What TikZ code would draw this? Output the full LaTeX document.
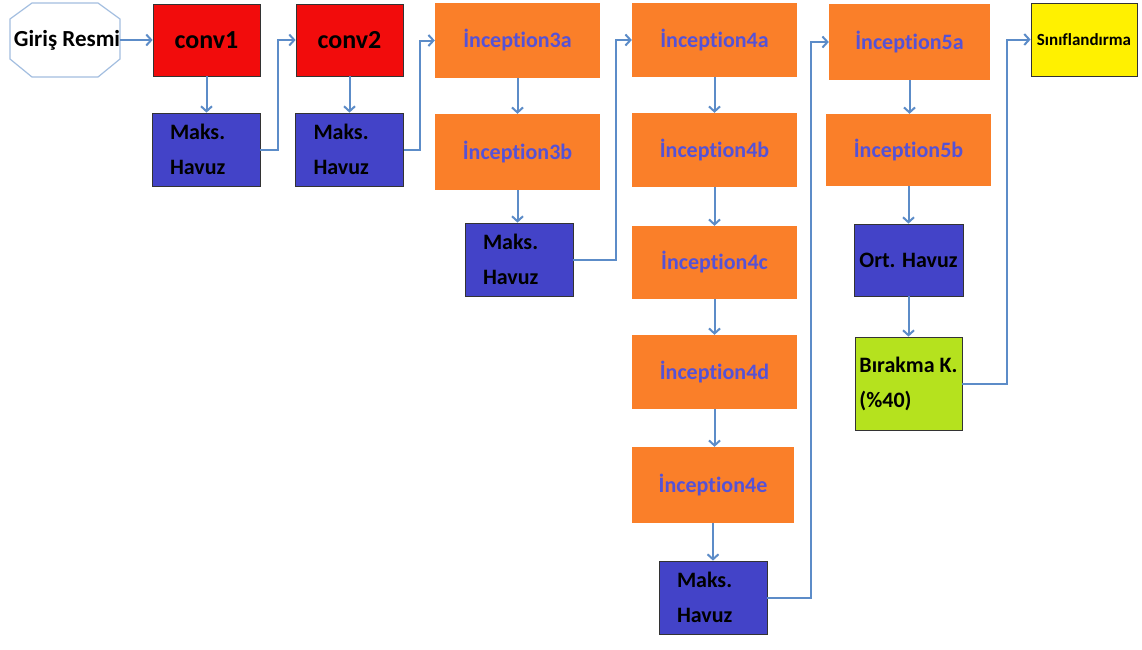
\documentclass[tikz,border=0pt]{standalone}
\usepackage{fontspec}
\setmainfont{Carlito}[Ligatures=NoCommon]
\usetikzlibrary{arrows.meta,calc}

\definecolor{convred}{HTML}{F20C0C}
\definecolor{poolblue}{HTML}{4343C8}
\definecolor{incorange}{HTML}{FA7F29}
\definecolor{inctext}{HTML}{5552D6}
\definecolor{clsyellow}{HTML}{FFF100}
\definecolor{droplime}{HTML}{B5E21E}
\definecolor{flowblue}{HTML}{5C8CC8}
\definecolor{octoline}{HTML}{A3BEE0}
\definecolor{edgegray}{HTML}{333333}

\tikzset{
  blk/.style={rectangle, inner sep=0pt, font=\bfseries\fontsize{22}{35}\selectfont},
  convbox/.style={blk, fill=convred, draw=edgegray, line width=0.8pt,
                  minimum width=107pt, minimum height=72pt,
                  font=\bfseries\fontsize{26}{30}\selectfont},
  poolbox/.style={blk, fill=poolblue, draw=edgegray, line width=0.8pt,
                  inner xsep=18pt, text width=72pt,
                  minimum height=73pt, align=left},
  incbox/.style={blk, fill=incorange, text=inctext,
                 minimum width=165pt, minimum height=74pt},
  dropbox/.style={blk, fill=droplime, draw=edgegray, line width=0.8pt,
                  minimum width=107pt, minimum height=93pt, align=left},
  clsbox/.style={blk, fill=clsyellow, draw=edgegray, line width=0.8pt,
                 minimum width=106pt, minimum height=73pt,
                 font=\bfseries\fontsize{17}{20}\selectfont},
  flow/.style={draw=flowblue, line width=2pt,
               -{Straight Barb[length=5pt,width=11pt,line width=2pt]}},
  octo/.style={draw=octoline, line width=1.2pt, fill=white}
}

\begin{document}
\begin{tikzpicture}[x=1pt,y=-1pt]
\useasboundingbox[fill=white] (0,0) rectangle (1142,649);

% input image octagon
\draw[octo] (32,3) -- (98,3) -- (120,19) -- (120,59) -- (98,77)
            -- (32,77) -- (10,59) -- (10,19) -- cycle;
\node[blk, font=\bfseries\fontsize{23}{27}\selectfont] (in) at (67,40) {Giriş Resmi};

% stem
\node[convbox] (conv1) at (206.5,40) {conv1};
\node[convbox] (conv2) at (349.5,40) {conv2};
\node[poolbox] (mh1) at (206,149.5) {Maks.\\Havuz};
\node[poolbox] (mh2) at (349.5,149.5) {Maks.\\Havuz};

% inception 3
\node[incbox, minimum height=75pt] (i3a) at (517.5,40.5) {İnception3a};
\node[incbox, minimum height=76pt] (i3b) at (517.5,152) {İnception3b};
\node[poolbox] (mh3) at (519,259.5) {Maks.\\Havuz};

% inception 4
\node[incbox] (i4a) at (714.5,40) {İnception4a};
\node[incbox] (i4b) at (714.5,150) {İnception4b};
\node[incbox, minimum height=73pt] (i4c) at (714.5,262.5) {İnception4c};
\node[incbox] (i4d) at (714.5,372) {İnception4d};
\node[incbox, minimum width=162pt, minimum height=76pt] (i4e) at (713,485) {İnception4e};
\node[poolbox] (mh4) at (713,597.5) {Maks.\\Havuz};

% inception 5 and head
\node[incbox, minimum width=161pt, minimum height=76pt] (i5a) at (909.5,42) {İnception5a};
\node[incbox, minimum height=72pt] (i5b) at (908.5,150) {İnception5b};
\node[blk, fill=poolblue, draw=edgegray, line width=0.8pt,
      minimum width=109pt, minimum height=72pt] (ort) at (908.5,260) {Ort. Havuz};
\node[dropbox] (birak) at (908.5,383.5) {Bırakma K.\\(\%40)};
\node[clsbox] (sinif) at (1084,39.5) {Sınıflandırma};

% straight connectors
\draw[flow] (in.east) -- (conv1.west);
\draw[flow] (conv1.south) -- (conv1.south |- mh1.north);
\draw[flow] (conv2.south) -- (conv2.south |- mh2.north);
\draw[flow] (i3a.south) -- (i3a.south |- i3b.north);
\draw[flow] (i3b.south) -- (i3b.south |- mh3.north);
\draw[flow] (i4a.south) -- (i4a.south |- i4b.north);
\draw[flow] (i4b.south) -- (i4b.south |- i4c.north);
\draw[flow] (i4c.south) -- (i4c.south |- i4d.north);
\draw[flow] (i4d.south) -- (i4d.south |- i4e.north);
\draw[flow] (i4e.south) -- (i4e.south |- mh4.north);
\draw[flow] (i5a.south) -- (i5a.south |- i5b.north);
\draw[flow] (i5b.south) -- (i5b.south |- ort.north);
\draw[flow] (ort.south) -- (ort.south |- birak.north);

% elbow connectors back to the top row
\draw[flow] (mh1.east) -- ++(18,0) |- (conv2.west);
\draw[flow] (mh2.east) -- ++(16,0) |- (i3a.west);
\draw[flow] (mh3.east) -- ++(43,0) |- (i4a.west);
\draw[flow] (mh4.east) -- ++(44,0) |- (i5a.west);
\draw[flow] (birak.east) -- ++(45,0) |- (sinif.west);
\end{tikzpicture}
\end{document}
